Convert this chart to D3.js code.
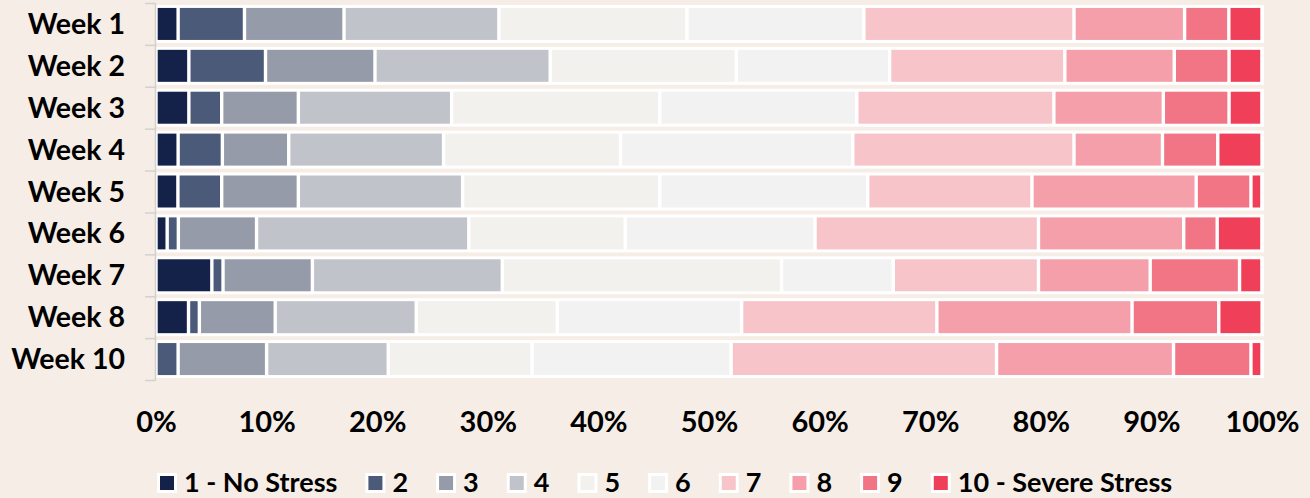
<!DOCTYPE html>
<html>
<head>
<meta charset="utf-8">
<script src="https://cdn.jsdelivr.net/npm/d3@7"></script>
<style>
  html, body { margin: 0; padding: 0; background: #f5ede6; }
  svg { display: block; }
  text { font-family: Lato, "Open Sans", sans-serif; font-weight: 700; fill: #000; }
</style>
</head>
<body>
<svg id="chart" width="1310" height="498"></svg>
<script>
// ---- data (percent of respondents per stress level) ----
const weeks = ["Week 1", "Week 2", "Week 3", "Week 4", "Week 5", "Week 6", "Week 7", "Week 8", "Week 10"];
const levels = ["1 - No Stress", "2", "3", "4", "5", "6", "7", "8", "9", "10 - Severe Stress"];
const week1  = [2, 6, 9, 14, 17, 16, 19, 10, 4, 3];
const week2  = [2.97, 6.93, 9.90, 15.84, 16.83, 13.86, 15.84, 9.90, 4.95, 2.97];
const week3  = [2.97, 2.97, 6.93, 13.86, 18.81, 17.82, 17.82, 9.90, 5.94, 2.97];
const week4  = [2, 4, 6, 14, 16, 21, 20, 8, 5, 4];
const week5  = [1.98, 3.96, 6.93, 14.85, 17.82, 18.81, 14.85, 14.85, 4.95, 0.99];
const week6  = [1.01, 1.01, 7.07, 19.19, 14.14, 17.17, 20.20, 13.13, 3.03, 4.04];
const week7  = [5.05, 1.01, 8.08, 17.17, 25.25, 10.10, 13.13, 10.10, 8.08, 2.02];
const week8  = [2.94, 0.98, 6.86, 12.75, 12.75, 16.67, 17.65, 17.65, 7.84, 3.92];
const week10 = [0, 2, 8, 11, 13, 18, 24, 16, 7, 1];
const xTicks = [0, 10, 20, 30, 40, 50, 60, 70, 80, 90, 100];
const colors = ["#14224a", "#4b5a78", "#959ba8", "#c0c3ca", "#f2f1ee", "#f2f2f2", "#f7c5c9", "#f59fab", "#f27586", "#f03f58"];

const weekValues = [week1, week2, week3, week4, week5, week6, week7, week8, week10];
const table = weeks.map((w, i) => {
  const row = { week: w };
  levels.forEach((l, j) => row[l] = weekValues[i][j]);
  return row;
});

// ---- layout ----
const svg = d3.select("#chart");
const x = d3.scaleLinear().domain([0, 100]).range([156, 1262]);
const yOuter = d3.scaleBand().domain(weeks).range([3, 380]);
const color = d3.scaleOrdinal().domain(levels).range(colors);

const stack = d3.stack().keys(levels);
const series = stack(table);

// white row backgrounds
svg.append("g").selectAll("rect").data(weeks).join("rect")
  .attr("x", x(0) - 1)
  .attr("width", x(100) - x(0) + 3)
  .attr("y", d => yOuter(d) + yOuter.bandwidth() / 2 - 19)
  .attr("height", 38)
  .attr("fill", "#ffffff");

// segments
const gap = 1.7;
svg.append("g").selectAll("g").data(series).join("g")
  .attr("fill", d => color(d.key))
  .selectAll("rect").data(d => d.filter(s => s[1] - s[0] > 0)).join("rect")
  .attr("x", d => x(d[0]) + gap)
  .attr("width", d => Math.max(0, x(d[1]) - x(d[0]) - 2 * gap))
  .attr("y", d => yOuter(d.data.week) + yOuter.bandwidth() / 2 - 16)
  .attr("height", 32);

// vertical category axis line with ticks at band boundaries
const axisG = svg.append("g");
const axisColor = "#d3d1ce";
axisG.append("line")
  .attr("x1", 155.5).attr("x2", 155.5)
  .attr("y1", 3).attr("y2", 380.5)
  .attr("stroke", axisColor).attr("stroke-width", 1.5);
const boundaries = weeks.map(w => yOuter(w)).concat([yOuter.range()[1]]);
axisG.selectAll("line.tick").data(boundaries).join("line")
  .attr("class", "tick")
  .attr("x1", 145).attr("x2", 155.5)
  .attr("y1", d => d + 0.5).attr("y2", d => d + 0.5)
  .attr("stroke", axisColor).attr("stroke-width", 1.5);

// category labels
svg.append("g").selectAll("text").data(weeks).join("text")
  .attr("x", 125)
  .attr("y", d => yOuter(d) + yOuter.bandwidth() / 2 + 10)
  .attr("text-anchor", "end")
  .style("font-size", "28.5px")
  .text(d => d);

// x tick labels via d3 axis
const xAxis = d3.axisBottom(x).tickValues(xTicks).tickFormat(d => d + "%").tickSize(0).tickPadding(0);
const xg = svg.append("g").attr("transform", "translate(0,411)").call(xAxis);
xg.select(".domain").remove();
xg.selectAll("text")
  .attr("dy", "0.71em")
  .attr("y", 0)
  .style("font-size", "29px")
  .style("font-family", "Lato, sans-serif")
  .style("font-weight", "700")
  .attr("fill", "#000");

// legend
const legend = svg.append("g");
let lx = 157;
levels.forEach((l, i) => {
  const g = legend.append("g");
  g.append("rect").attr("x", lx).attr("y", 473).attr("width", 20).attr("height", 20).attr("fill", "#ffffff");
  g.append("rect").attr("x", lx + 3).attr("y", 476).attr("width", 14).attr("height", 14).attr("fill", colors[i]);
  const t = g.append("text").attr("x", lx + 27).attr("y", 491.5).style("font-size", "27px").text(l);
  lx += 27 + t.node().getComputedTextLength() + 28;
});
</script>
</body>
</html>
